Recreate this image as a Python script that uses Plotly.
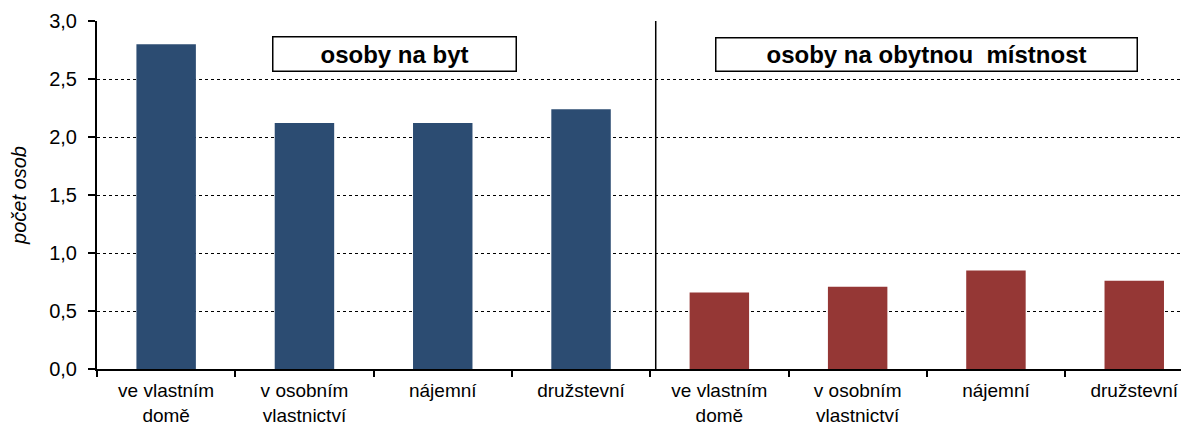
import plotly.graph_objects as go

# categories (legal reason of the flat use)
categories = ["ve vlastním<br>domě", "v osobním<br>vlastnictví", "nájemní", "družstevní"]
per_flat = [2.80, 2.12, 2.12, 2.24]
per_room = [0.66, 0.71, 0.85, 0.76]
y_ticks = [0.0, 0.5, 1.0, 1.5, 2.0, 2.5, 3.0]

BLUE = "#2C4C72"
RED = "#953735"
FONT = "Liberation Sans, Arial, sans-serif"

n = len(categories)
x_left = list(range(n))
x_right = [i + n for i in range(n)]

fig = go.Figure()
fig.add_trace(go.Bar(x=x_left, y=per_flat, width=0.43, marker=dict(color=BLUE, line=dict(width=0)),
                     name="osoby na byt"))
fig.add_trace(go.Bar(x=x_right, y=per_room, width=0.43, marker=dict(color=RED, line=dict(width=0)),
                     name="osoby na obytnou místnost"))

# page body has an 8px margin, so the figure is made 8px smaller
fig.update_layout(
    width=1181, height=418,
    margin=dict(l=89, r=0, t=13, b=54),
    plot_bgcolor="white", paper_bgcolor="white",
    showlegend=False,
    separators=", ",
    font=dict(family=FONT, color="black", size=18),
)

fig.update_xaxes(
    range=[-0.5, -0.5 + (1189 - 97) / 138.3],
    tickmode="array",
    tickvals=x_left + x_right,
    ticktext=categories + categories,
    ticks="",
    ticklabelstandoff=3,
    showgrid=False,
    zeroline=False,
    showline=True, linecolor="black", linewidth=2,
    tickfont=dict(size=19, family=FONT, color="black"),
    minor=dict(ticks="outside", tick0=0.5, dtick=1, ticklen=6, tickwidth=1.5,
               tickcolor="black", showgrid=False),
)
fig.update_yaxes(
    range=[0, 3],
    tickmode="array",
    tickvals=y_ticks,
    tickformat=".1f",
    ticks="outside", ticklen=7, tickwidth=1.5, tickcolor="black",
    ticklabelstandoff=7,
    showgrid=True, gridcolor="black", griddash="dot", gridwidth=1,
    zeroline=False,
    showline=True, linecolor="black", linewidth=2,
    tickfont=dict(size=20, family=FONT, color="black"),
    title=dict(text="<i>počet osob</i>", font=dict(size=20, family=FONT), standoff=22),
)

# divider between the two groups
fig.add_shape(type="line", xref="x", yref="paper", x0=3.54, x1=3.54, y0=0, y1=1,
              line=dict(color="black", width=1.5))

# group labels in framed boxes
fig.add_annotation(x=1.65, y=2.715, xref="x", yref="y", text="<b>osoby na byt</b>",
                   showarrow=False, font=dict(size=24, family=FONT, color="black"),
                   bordercolor="black", borderwidth=1.5, bgcolor="white",
                   width=240, height=31)
fig.add_annotation(x=5.5, y=2.715, xref="x", yref="y", text="<b>osoby na obytnou  místnost</b>",
                   showarrow=False, font=dict(size=24, family=FONT, color="black"),
                   bordercolor="black", borderwidth=1.5, bgcolor="white",
                   width=418, height=30)

fig.write_html("out.html")
